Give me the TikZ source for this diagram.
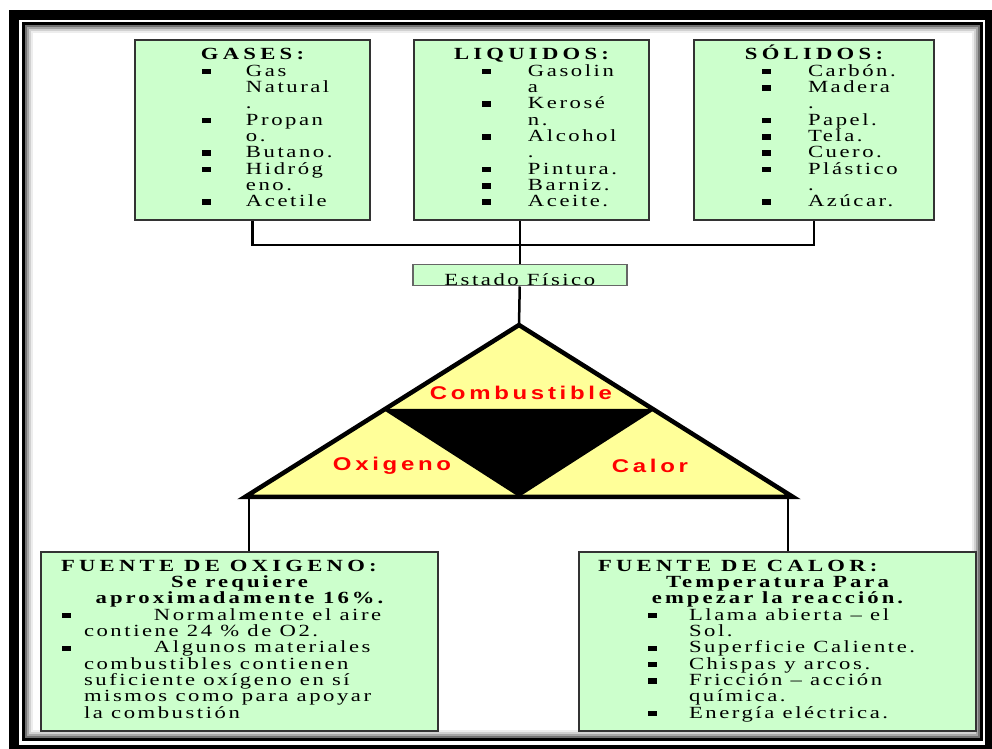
\documentclass[tikz,border=0pt]{standalone}
\usepackage{fontspec}
\setmainfont{Liberation Serif}
\newfontfamily\bodyfont[FakeStretch=1.33, LetterSpace=15]{Liberation Serif}
\newfontfamily\headfont[FakeStretch=1.33, LetterSpace=25]{Liberation Serif}
\newfontfamily\subfont[FakeStretch=1.33, LetterSpace=18]{Liberation Serif}
\newfontfamily\trifont[FakeStretch=1.3, LetterSpace=20]{Liberation Sans}

\definecolor{boxgreen}{RGB}{204,255,204}
\definecolor{triyellow}{RGB}{255,255,153}
\definecolor{labelred}{RGB}{255,0,0}

% one pixel of the drawing
\newlength{\px}
\setlength{\px}{0.02cm}

% bullet lines, continuation lines, centred lines
\newcommand{\blt}{\rule[0.11em]{0.5em}{0.32em}}
\newcommand{\itm}[3]{\smash{\makebox[#1\px][l]{\hspace*{#2\px}\blt}\mbox{#3}}}
\newcommand{\cnt}[2]{\smash{\hspace*{#1\px}\mbox{#2}}}
\newcommand{\ctr}[1]{\smash{\makebox[\linewidth][c]{#1}}}

\begin{document}
\begin{tikzpicture}[x=0.02cm, y=-0.02cm,
    box/.style={draw=black!80, line width=2\px, fill=boxgreen, inner sep=0pt,
      anchor=north west, font=\bodyfont\fontsize{9.7}{9.3}\selectfont},
    conn/.style={line width=2.5\px},
    trilabel/.style={text=labelred, font=\trifont\bfseries\fontsize{10.5}{12}\selectfont}]

    \useasboundingbox (0,0) rectangle (992,749);

    % Frame
    \draw[line width=10\px] (14,15) rectangle (990,750);
    \draw[line width=3\px] (23,23.5) rectangle (981,739.5);
    \foreach \d/\c in {2.5/55, 4.5/35, 6.5/18, 8.5/7}
        \draw[black!\c, line width=2\px] (23+\d,23.5+\d) rectangle (981-\d,739.5-\d);

    % Fuel groups
    \node[box, minimum width=235\px, minimum height=180\px] (gases) at (134,39) {%
        \begin{tabular}{@{}p{235\px}@{}}
        \ctr{\headfont\bfseries GASES:}\\
        \itm{111}{67}{Gas}\\
        \cnt{111}{Natural}\\
        \cnt{111}{.}\\
        \itm{111}{67}{Propan}\\
        \cnt{111}{o.}\\
        \itm{111}{67}{Butano.}\\
        \itm{111}{67}{Hidróg}\\
        \cnt{111}{eno.}\\
        \itm{111}{67}{Acetile}
        \end{tabular}};
    \node[box, minimum width=235\px, minimum height=180\px] (liquidos) at (413,39) {%
        \begin{tabular}{@{}p{235\px}@{}}
        \ctr{\headfont\bfseries LIQUIDOS:}\\
        \itm{114}{68}{Gasolin}\\
        \cnt{114}{a}\\
        \itm{114}{68}{Kerosé}\\
        \cnt{114}{n.}\\
        \itm{114}{68}{Alcohol}\\
        \cnt{114}{.}\\
        \itm{114}{68}{Pintura.}\\
        \itm{114}{68}{Barniz.}\\
        \itm{114}{68}{Aceite.}
        \end{tabular}};
    \node[box, minimum width=240\px, minimum height=180\px] (solidos) at (693,39) {%
        \begin{tabular}{@{}p{240\px}@{}}
        \ctr{\headfont\bfseries SÓLIDOS:}\\
        \itm{114}{68}{Carbón.}\\
        \itm{114}{68}{Madera}\\
        \cnt{114}{.}\\
        \itm{114}{68}{Papel.}\\
        \itm{114}{68}{Tela.}\\
        \itm{114}{68}{Cuero.}\\
        \itm{114}{68}{Plástico}\\
        \cnt{114}{.}\\
        \itm{114}{68}{Azúcar.}
        \end{tabular}};

    % Physical state
    \node[box, draw=black!60, line width=1.5\px, minimum width=214\px,
        text height=21\px, text depth=0pt] (estado) at (412,264) {Estado Físico};

    \draw[conn] (gases.south) -- ++(0,24) -| (solidos.south);
    \draw[conn] (liquidos.south -| estado.north) -- (estado.north);

    % Fire triangle
    \coordinate (apex) at (519,325);
    \coordinate (baseL) at (245,497);
    \coordinate (baseR) at (793,497);
    \coordinate (midL) at (382,409);
    \coordinate (midR) at (656,409);
    \coordinate (midB) at (519,497);
    \draw[conn] (estado.south) -- (apex);
    \draw[line width=4.5\px, fill=triyellow, line join=miter] (apex) -- (baseL) -- (baseR) -- cycle;
    \fill (midL) -- (midR) -- (midB) -- cycle;
    \node[trilabel] (comb) at (521,393) {Combustible};
    \node[trilabel] (oxi) at (392,466) {Oxigeno};
    \node[trilabel] (calor) at (650,466) {Calor};

    % Sources
    \node[box, minimum width=397\px, minimum height=179\px] (oxsrc) at (40,551) {%
        \begin{tabular}{@{}p{397\px}@{}}
        \cnt{20}{\headfont\bfseries FUENTE DE OXIGENO:}\\
        \ctr{\subfont\bfseries Se requiere}\\
        \ctr{\subfont\bfseries aproximadamente 16\%.}\\
        \itm{113}{21}{Normalmente el aire}\\
        \cnt{43}{contiene 24 \% de O2.}\\
        \itm{113}{21}{Algunos materiales}\\
        \cnt{43}{combustibles contienen}\\
        \cnt{43}{suficiente oxígeno en sí}\\
        \cnt{43}{mismos como para apoyar}\\
        \cnt{43}{la combustión}
        \end{tabular}};
    \node[box, minimum width=397\px, minimum height=179\px] (heatsrc) at (578,551) {%
        \begin{tabular}{@{}p{397\px}@{}}
        \cnt{19}{\headfont\bfseries FUENTE DE CALOR:}\\
        \ctr{\subfont\bfseries Temperatura Para}\\
        \ctr{\subfont\bfseries empezar la reacción.}\\
        \itm{110}{69}{Llama abierta – el}\\
        \cnt{110}{Sol.}\\
        \itm{110}{69}{Superficie Caliente.}\\
        \itm{110}{69}{Chispas y arcos.}\\
        \itm{110}{69}{Fricción – acción}\\
        \cnt{110}{química.}\\
        \itm{110}{69}{Energía eléctrica.}
        \end{tabular}};

    \coordinate (footL) at (249,497);
    \coordinate (footR) at (788,497);
    \draw[conn] (footL) -- (footL |- oxsrc.north);
    \draw[conn] (footR) -- (footR |- heatsrc.north);

\end{tikzpicture}
\end{document}
